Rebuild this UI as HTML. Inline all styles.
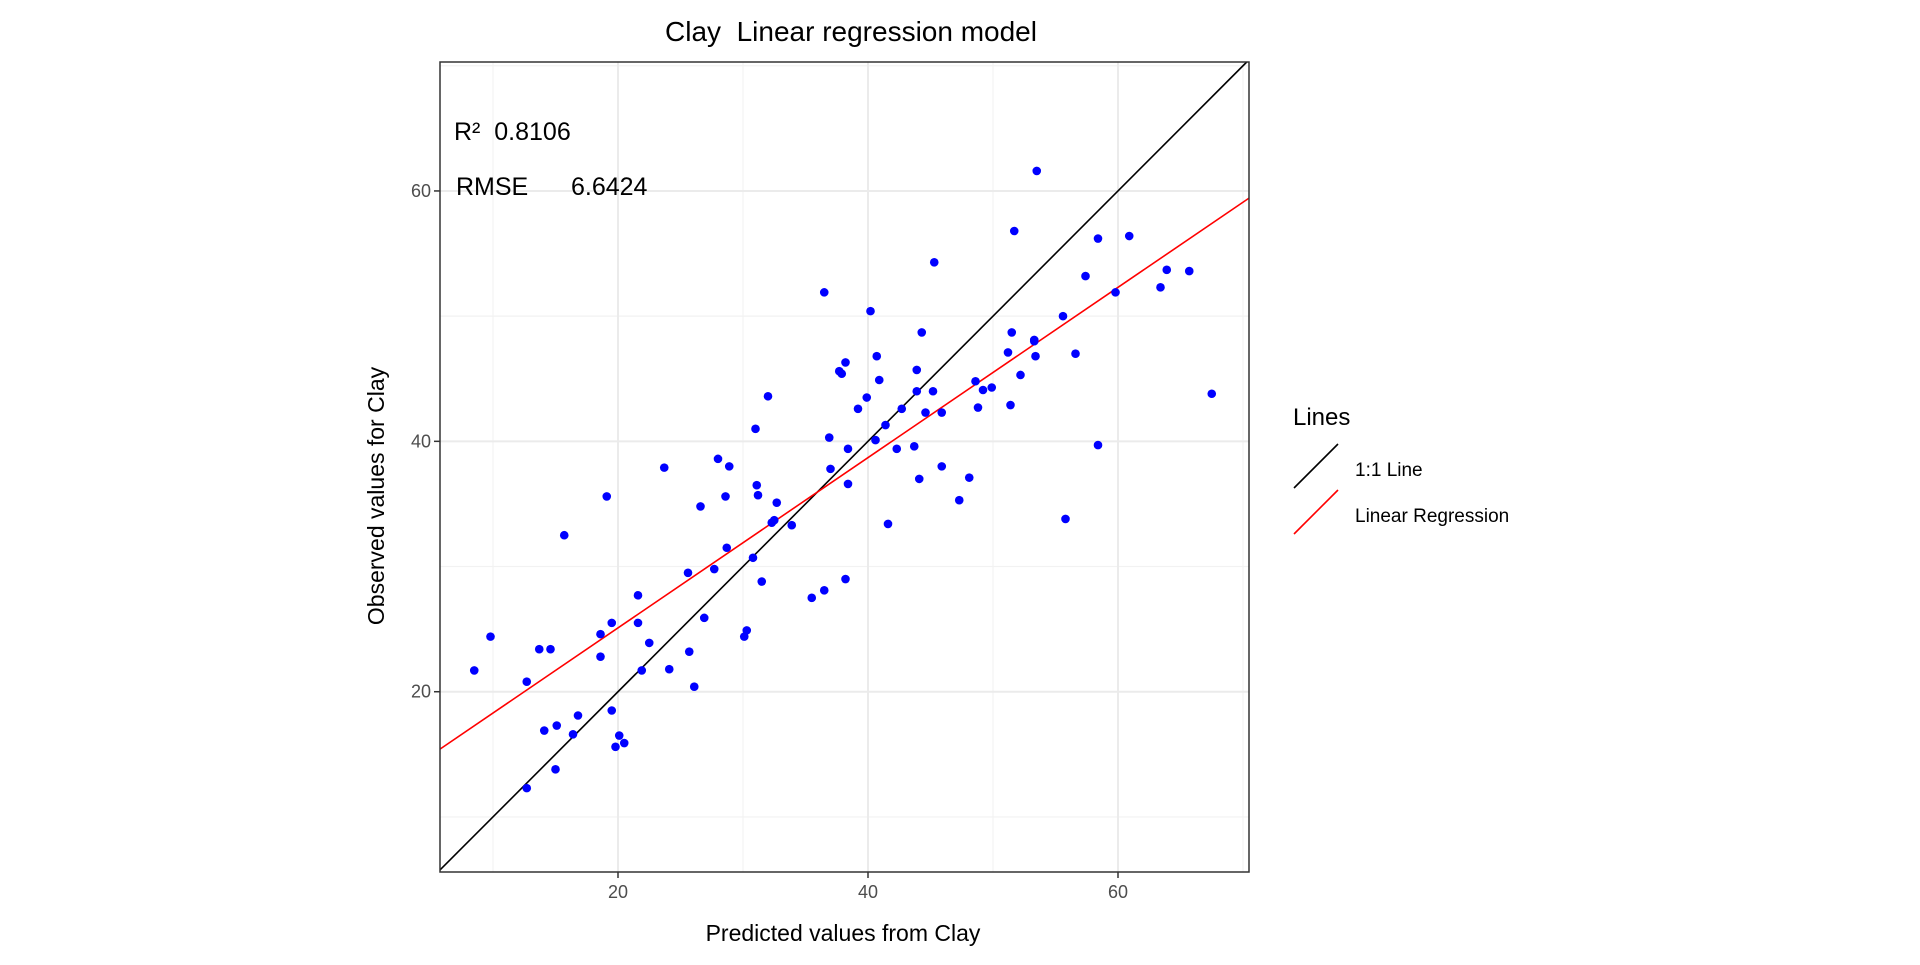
<!DOCTYPE html>
<html><head><meta charset="utf-8"><style>
html,body{margin:0;padding:0;background:#fff;}
svg text{font-family:"Liberation Sans",Arial,sans-serif;white-space:pre;}
</style></head><body>
<svg id="chart" width="1920" height="960" xmlns="http://www.w3.org/2000/svg" xml:space="preserve">
<rect width="1920" height="960" fill="#fff"/>
<g id="grid"></g>
<g id="lines"></g>
<g id="points"></g>
<rect x="440" y="62" width="809" height="810" fill="none" stroke="#333" stroke-width="1.5"/>
<g id="ticks"></g>
<text x="851" y="41" font-size="28" text-anchor="middle" fill="#000">Clay  Linear regression model</text>
<text x="843" y="941" font-size="23" text-anchor="middle" fill="#000">Predicted values from Clay</text>
<text transform="translate(384,496) rotate(-90)" font-size="23" text-anchor="middle" fill="#000">Observed values for Clay</text>
<text x="454" y="140" font-size="25" fill="#000">R²  0.8106</text>
<text x="456" y="195" font-size="25" fill="#000">RMSE</text>
<text x="571" y="195" font-size="25" fill="#000">6.6424</text>
<g>
<text x="1293" y="425" font-size="24" fill="#000">Lines</text>
<line x1="1294" y1="488" x2="1338" y2="444" stroke="#000" stroke-width="1.6"/>
<text x="1355" y="476" font-size="19" fill="#000">1:1 Line</text>
<line x1="1294" y1="534" x2="1338" y2="490" stroke="#f00" stroke-width="1.6"/>
<text x="1355" y="522" font-size="19" fill="#000">Linear Regression</text>
</g>
</svg>
<script>
const predicted=[8.5,9.8,12.7,12.7,13.7,14.6,14.1,15.1,15.0,15.7,16.4,16.8,18.6,18.6,19.1,19.5,19.5,19.8,20.1,20.5,21.6,21.6,21.9,22.5,23.7,24.1,25.6,25.7,26.1,26.6,26.9,27.7,28.0,28.6,28.7,28.9,30.1,30.3,30.8,31.0,31.1,31.2,31.5,32.0,32.3,32.5,32.7,33.9,35.5,36.5,36.5,36.9,37.0,37.7,37.9,38.2,38.2,38.4,38.4,39.2,39.9,40.2,40.6,40.7,40.9,41.4,41.6,42.3,42.7,43.7,43.9,43.9,44.1,44.3,44.6,45.2,45.3,45.9,45.9,47.3,48.1,48.6,48.8,49.2,49.9,51.2,51.4,51.5,51.7,52.2,53.3,53.3,53.4,53.5,55.6,55.8,56.6,57.4,58.4,58.4,59.8,60.9,63.4,63.9,65.7,67.5];
const observed=[21.7,24.4,20.8,12.3,23.4,23.4,16.9,17.3,13.8,32.5,16.6,18.1,24.6,22.8,35.6,25.5,18.5,15.6,16.5,15.9,27.7,25.5,21.7,23.9,37.9,21.8,29.5,23.2,20.4,34.8,25.9,29.8,38.6,35.6,31.5,38.0,24.4,24.9,30.7,41.0,36.5,35.7,28.8,43.6,33.5,33.7,35.1,33.3,27.5,51.9,28.1,40.3,37.8,45.6,45.4,46.3,29.0,39.4,36.6,42.6,43.5,50.4,40.1,46.8,44.9,41.3,33.4,39.4,42.6,39.6,44.0,45.7,37.0,48.7,42.3,44.0,54.3,38.0,42.3,35.3,37.1,44.8,42.7,44.1,44.3,47.1,42.9,48.7,56.8,45.3,48.1,48.0,46.8,61.6,50.0,33.8,47.0,53.2,56.2,39.7,51.9,56.4,52.3,53.7,53.6,43.8];
const xTicks=[20,40,60];
const yTicks=[20,40,60];
const xMinor=[10,30,50,70];
const yMinor=[10,30,50,70];
const regIntercept=[11.5];
const regSlope=[0.68];
const X0=440,X1=1249,Y0=62,Y1=872,xmin=5.76,xmax=70.48,ymin=5.6,ymax=70.3;
function sx(v){return X0+(v-xmin)/(xmax-xmin)*(X1-X0);}
function sy(v){return Y1-(v-ymin)/(ymax-ymin)*(Y1-Y0);}
const NS="http://www.w3.org/2000/svg";
function mk(tag,attrs,parent){const e=document.createElementNS(NS,tag);for(const k in attrs)e.setAttribute(k,attrs[k]);parent.appendChild(e);return e;}
const grid=document.getElementById('grid');
xMinor.forEach(v=>{if(v<xmin||v>xmax)return;const l=mk('line',{x1:sx(v),x2:sx(v),y1:Y0,y2:Y1,stroke:'#f2f2f2','stroke-width':1.2},grid);

});
yMinor.forEach(v=>{if(v<ymin||v>ymax)return;const l=mk('line',{x1:X0,x2:X1,y1:sy(v),y2:sy(v),stroke:'#f2f2f2','stroke-width':1.2},grid);

});
const ticks=document.getElementById('ticks');
xTicks.forEach(v=>{const l=mk('line',{x1:sx(v),x2:sx(v),y1:Y0,y2:Y1,stroke:'#ebebeb','stroke-width':2},grid);


const t=mk('line',{x1:sx(v),x2:sx(v),y1:Y1,y2:Y1+6,stroke:'#333','stroke-width':1.5},ticks);


const tx=mk('text',{x:sx(v),y:Y1+26,'font-size':18,'text-anchor':'middle',fill:'#4d4d4d'},ticks);tx.textContent=v;

});
yTicks.forEach(v=>{const l=mk('line',{x1:X0,x2:X1,y1:sy(v),y2:sy(v),stroke:'#ebebeb','stroke-width':2},grid);


const t=mk('line',{x1:X0-6,x2:X0,y1:sy(v),y2:sy(v),stroke:'#333','stroke-width':1.5},ticks);


const tx=mk('text',{x:X0-9,y:sy(v)+6,'font-size':18,'text-anchor':'end',fill:'#4d4d4d'},ticks);tx.textContent=v;

});
const lines=document.getElementById('lines');
const lo=Math.max(xmin,ymin),hi=Math.min(xmax,ymax);
const one=mk('line',{x1:sx(lo),y1:sy(lo),x2:sx(hi),y2:sy(hi),stroke:'#000','stroke-width':1.6},lines);


const reg=mk('line',{x1:sx(xmin),y1:sy(regIntercept[0]+regSlope[0]*xmin),x2:sx(xmax),y2:sy(regIntercept[0]+regSlope[0]*xmax),stroke:'#f00','stroke-width':1.6},lines);


const pts=document.getElementById('points');
predicted.forEach((p,i)=>{const c=mk('circle',{cx:sx(p),cy:sy(observed[i]),r:4.3,fill:'#0000ff'},pts);

});
</script>
</body></html>
